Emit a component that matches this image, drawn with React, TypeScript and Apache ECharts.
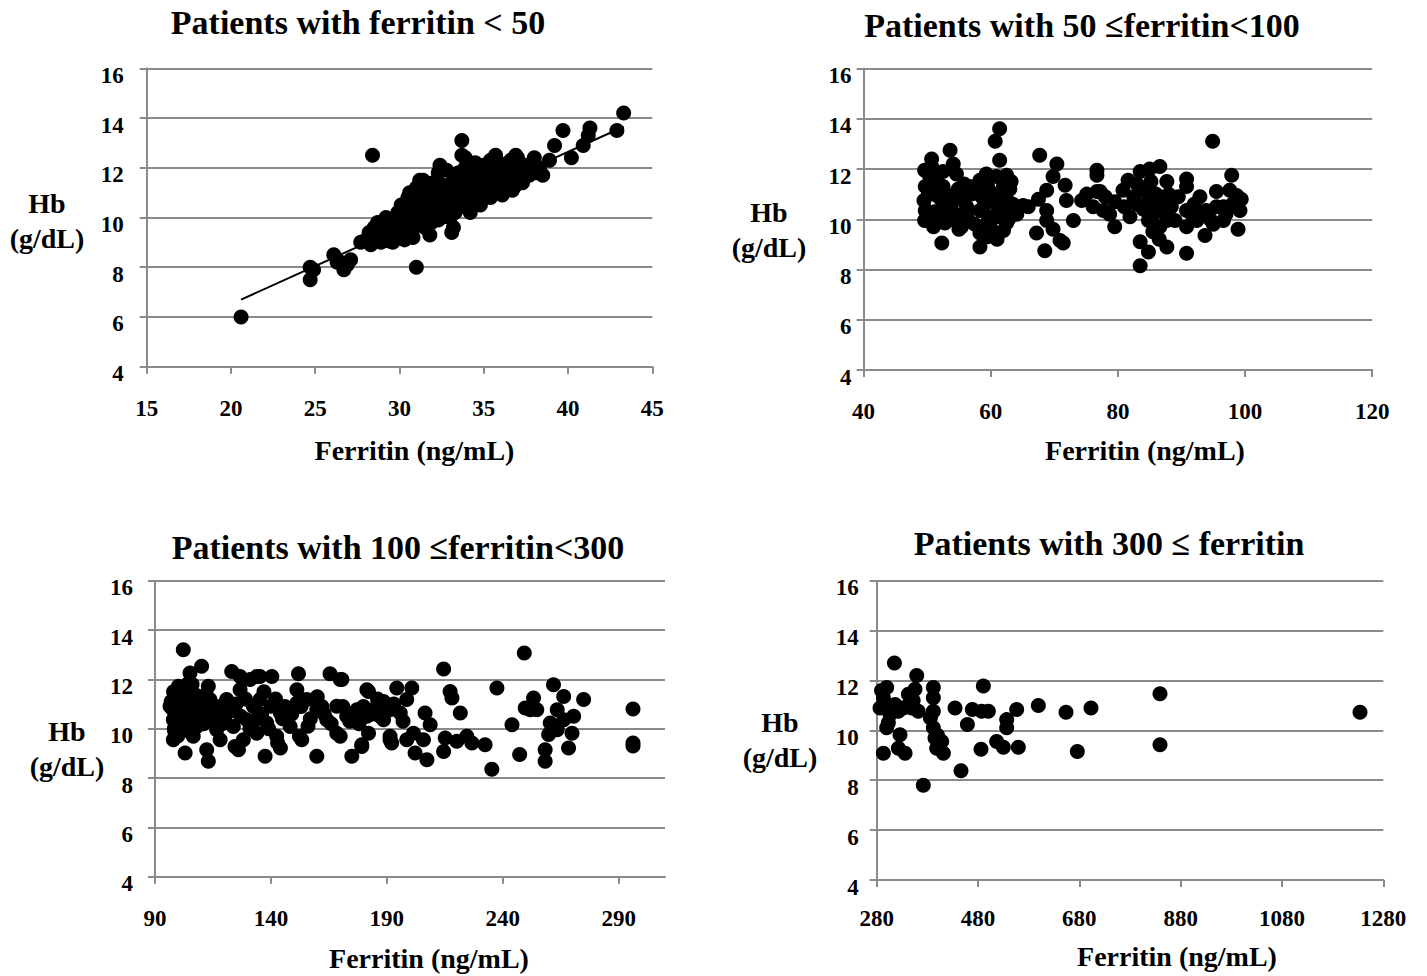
import React, { useEffect, useRef } from "react";
import * as echarts from "echarts";

// ---------- texts ----------
const titles = [
  "Patients with ferritin < 50",
  "Patients with 50 \u2264ferritin<100",
  "Patients with 100 \u2264ferritin<300",
  "Patients with 300 \u2264 ferritin",
];
const xAxisTitle = "Ferritin (ng/mL)";
const yAxisTitle = "Hb\n(g/dL)";

// ---------- axes ----------
const yTicks = [4, 6, 8, 10, 12, 14, 16];
const xTicks1 = [15, 20, 25, 30, 35, 40, 45];
const xTicks2 = [40, 60, 80, 100, 120];
const xTicks3 = [90, 140, 190, 240, 290];
const xTicks4 = [280, 480, 680, 880, 1080, 1280];
const xRange1 = [15, 45];
const xRange2 = [40, 120];
const xRange3 = [90, 310];
const xRange4 = [280, 1280];

// ---------- data: [ferritin, Hb] ----------
const trend1 = [
  [20.6, 6.7],
  [43.3, 13.65],
];

const p1Points = [
  [20.6, 6.0], [24.7, 8.0], [24.7, 7.5], [24.9, 7.9], [26.1, 8.5], [26.3, 8.2], [26.5, 8.2],
  [26.7, 7.9], [27.1, 8.3], [26.9, 8.1], [27.7, 9.0], [28.0, 9.1], [28.4, 12.5], [31.0, 8.0],
  [31.8, 9.3], [33.2, 9.6], [33.1, 9.4], [33.7, 13.1], [43.3, 14.2], [42.9, 13.5], [41.3, 13.6],
  [41.2, 13.3], [40.9, 12.9], [40.2, 12.4], [39.7, 13.5], [39.2, 12.9], [38.9, 12.3], [38.5, 11.7],
  [38.2, 12.0], [38.0, 12.4], [36.9, 12.5], [35.7, 12.5], [33.9, 12.4], [33.9, 12.0], [32.4, 12.1],
  [31.2, 11.5], [30.6, 11.0],
  [28.2, 9.4], [28.4, 9.1], [28.5, 9.6], [28.6, 9.3], [28.7, 9.8],
  [29.0, 9.2], [29.0, 9.5], [29.1, 9.8], [29.2, 10.0], [29.3, 9.3], [29.4, 9.05], [29.5, 9.6],
  [29.6, 9.0], [29.7, 9.9], [29.8, 9.4], [29.9, 10.2], [30.0, 9.7], [30.1, 9.2], [30.2, 10.0],
  [30.3, 9.1], [30.3, 10.4], [30.4, 9.6], [30.5, 10.8], [30.6, 10.2], [30.7, 9.4], [30.8, 10.6],
  [30.8, 9.2], [30.9, 9.9], [31.0, 11.2], [31.0, 10.3], [31.1, 9.7],
  [31.2, 10.9], [31.3, 10.1], [31.4, 11.5], [31.5, 10.6], [31.6, 9.9], [31.7, 11.2], [31.8, 10.4],
  [31.9, 9.8], [32.0, 10.8], [32.0, 11.4],
  [32.1, 10.2], [32.2, 11.0], [32.3, 11.8], [32.4, 10.5], [32.5, 10.0], [32.6, 11.3], [32.7, 10.7],
  [32.8, 11.9], [32.9, 10.3], [33.0, 11.1],
  [33.1, 10.6], [33.2, 11.5], [33.3, 10.2], [33.4, 11.0], [33.5, 11.8], [33.6, 10.5], [33.7, 12.5],
  [33.8, 11.3], [33.9, 10.8], [34.0, 12.0],
  [34.1, 10.4], [34.2, 11.6], [34.3, 11.0], [34.4, 10.6], [34.5, 12.2], [34.6, 11.3], [34.7, 10.8],
  [34.8, 11.8], [35.0, 11.1], [35.0, 12.1],
  [35.2, 11.5], [35.3, 10.9], [35.4, 12.3], [35.5, 11.3], [35.6, 11.8], [35.8, 11.0], [35.9, 12.2],
  [36.0, 11.5],
  [36.2, 12.0], [36.3, 11.3], [36.5, 11.7], [36.6, 12.3], [36.7, 11.1], [36.8, 11.9], [37.0, 12.4],
  [37.0, 11.5],
  [37.2, 11.8], [37.4, 11.6], [37.5, 12.1], [37.7, 11.7], [37.9, 11.9], [38.1, 11.8], [38.3, 12.0],
  [29.3, 9.7], [29.6, 9.5], [29.9, 9.8], [30.1, 10.5], [30.2, 9.5], [30.5, 9.9], [30.6, 10.6],
  [30.9, 10.4], [31.2, 10.0], [31.4, 10.8], [31.5, 9.6], [31.7, 10.2], [31.9, 10.9], [32.1, 10.6],
  [32.3, 9.9], [32.5, 11.2], [32.8, 10.5], [33.0, 10.0], [33.2, 10.8], [33.5, 10.4], [33.7, 11.1],
  [34.0, 10.7], [34.2, 10.2], [34.5, 11.0], [34.8, 10.5], [35.1, 11.4], [35.4, 10.8], [35.7, 11.2],
  [36.1, 10.9], [36.4, 11.5], [36.9, 11.3], [37.3, 11.4], [28.9, 9.0], [29.8, 9.15], [28.3, 8.9],
];

const p2Points = [
  [61.4, 13.6], [60.7, 13.1], [61.4, 12.35], [53.6, 12.75], [50.7, 12.4], [49.6, 11.95], [67.7, 12.55],
  [70.4, 12.2], [52.3, 9.05], [58.3, 8.9], [68.5, 8.75], [71.4, 9.05], [67.2, 9.45], [65.1, 10.55],
  [63.0, 11.2], [62.5, 11.75], [69.8, 11.7], [71.7, 11.35], [68.8, 11.15], [67.5, 10.8], [68.8, 9.95],
  [69.8, 9.6], [73.0, 9.95], [74.3, 10.75], [76.1, 10.5], [77.2, 11.1], [49.6, 9.95], [49.9, 10.35],
  [49.5, 10.75], [49.7, 11.3], [51.5, 11.55], [52.3, 10.75], [53.3, 10.35], [52.8, 9.85], [54.6, 11.8],
  [54.9, 11.2], [55.7, 10.75], [55.4, 9.7], [56.5, 9.95], [58.3, 11.55], [58.6, 10.9], [58.3, 10.35],
  [58.8, 9.55], [59.9, 9.85], [60.9, 11.7], [62.0, 11.3], [60.9, 10.6], [61.4, 10.1], [60.4, 9.5],
  [62.5, 9.85], [63.5, 10.6], [64.1, 10.2], [65.9, 10.5], [50.7, 12.1], [54.1, 12.2],
  [51.0, 11.0], [49.7, 10.35], [52.0, 9.95], [54.4, 9.95], [56.2, 10.5], [56.7, 11.3], [59.3, 11.8],
  [58.0, 11.15], [59.6, 9.95], [63.0, 10.35], [62.5, 10.8], [50.4, 11.7], [52.5, 11.9], [58.3, 9.45],
  [62.0, 9.55], [68.8, 10.35], [70.9, 9.15], [71.9, 10.75], [75.1, 11.0], [78.0, 10.9],
  [94.9, 13.1], [76.7, 11.95], [76.7, 11.75], [76.7, 11.1], [79.5, 10.7], [77.7, 10.35], [79.5, 9.7],
  [81.9, 10.1], [80.8, 11.15], [81.6, 11.55], [83.5, 11.9], [85.0, 12.0], [86.6, 12.1], [87.7, 11.5],
  [84.0, 11.15], [84.8, 10.75], [86.6, 10.8], [85.6, 10.2], [84.8, 9.95], [86.6, 9.7], [88.4, 10.5],
  [89.0, 9.95], [83.5, 9.1], [84.8, 8.7], [83.5, 8.15], [87.7, 8.9], [90.8, 11.6], [90.8, 11.3],
  [90.8, 8.65], [90.8, 10.35], [90.8, 9.7], [92.4, 9.95], [93.9, 10.35], [93.7, 9.35], [95.5, 10.5],
  [95.5, 11.1], [97.9, 11.75], [98.7, 10.95], [99.2, 10.35], [98.9, 9.6], [96.6, 9.95], [92.9, 10.9],
  [86.1, 10.5], [87.7, 9.95], [83.0, 10.6], [89.5, 10.9], [91.8, 10.1], [96.6, 10.5], [97.6, 11.15],
  [99.4, 10.8], [78.7, 10.2],
  [50.2, 11.0], [50.5, 10.0], [51.2, 10.3], [51.8, 10.9], [52.5, 11.3], [53.0, 11.0], [53.8, 10.6],
  [54.5, 10.2], [55.0, 10.9], [55.8, 11.4], [56.3, 10.3], [57.0, 11.0], [57.5, 9.8], [59.0, 10.6],
  [59.5, 11.3], [60.0, 10.1], [60.5, 11.0], [61.5, 11.0], [62.0, 10.5], [62.8, 10.0], [63.2, 11.5],
  [59.5, 9.3], [61.0, 9.2], [55.0, 9.6], [51.0, 9.7],
  [84.0, 10.4], [85.2, 11.5], [86.0, 11.0], [87.2, 10.3], [88.0, 11.0], [85.5, 9.5], [83.0, 11.4],
  [86.5, 9.2], [92.0, 10.6], [93.0, 10.2], [94.5, 10.0], [95.0, 9.8], [97.0, 10.2], [98.0, 10.6],
  [81.0, 10.5], [82.5, 10.9],
];

const p3Points = [
  [102.2, 13.2], [110.1, 12.53], [123.1, 12.32], [133.9, 12.12], [140.4, 12.12], [151.9, 12.23],
  [165.5, 12.23], [170.6, 11.99], [214.5, 12.42], [249.3, 13.07], [237.5, 11.65], [200.8, 11.65],
  [194.3, 11.65], [217.3, 11.51], [218.1, 11.24], [221.7, 10.64], [206.5, 10.64], [208.7, 10.16],
  [205.8, 9.55], [201.5, 9.82], [202.2, 9.01], [207.3, 8.74], [214.5, 9.08], [215.2, 9.62],
  [220.2, 9.49], [224.5, 9.69], [226.7, 9.42], [232.4, 9.35], [235.3, 8.36], [244.0, 10.16],
  [247.3, 8.95], [249.7, 10.84], [253.3, 11.24], [254.7, 10.77], [261.9, 11.78], [266.3, 11.31],
  [270.6, 10.5], [269.9, 9.82], [268.4, 9.22], [258.3, 8.68], [258.3, 9.15], [259.8, 9.76],
  [260.5, 10.23], [263.5, 10.77], [274.9, 11.18], [296.2, 10.8], [296.2, 9.42], [296.2, 9.3],
  [251.9, 10.77], [263.5, 9.96], [266.3, 10.36],
  [105.1, 12.26], [135.3, 12.12], [126.7, 12.12], [131.0, 11.99], [169.9, 11.99], [113.0, 11.72],
  [98.6, 11.45], [96.5, 10.91], [97.9, 10.36], [97.9, 9.55], [103.0, 9.01], [112.3, 9.15],
  [113.0, 8.68], [126.0, 9.15], [128.1, 9.55], [137.5, 8.88], [142.9, 9.42], [144.1, 9.22],
  [152.3, 9.69], [159.8, 8.88], [169.9, 9.69], [174.9, 8.88], [179.2, 9.28], [182.1, 9.82],
  [191.4, 9.55], [181.4, 11.58], [151.2, 11.58], [151.2, 11.04], [144.1, 10.64], [135.3, 11.18],
  [126.7, 11.58], [120.9, 11.18], [120.2, 10.5], [116.6, 9.96], [108.0, 10.09], [105.1, 10.91],
  [101.5, 11.45], [103.7, 10.5], [106.5, 9.69], [110.9, 10.64], [113.7, 11.18], [123.8, 10.09],
  [129.6, 10.36], [132.4, 10.91], [138.2, 10.23], [140.1, 10.91], [148.3, 10.09], [155.5, 11.18],
  [159.8, 10.77], [164.1, 10.36], [168.4, 10.91], [172.7, 10.5], [177.1, 10.77], [185.7, 10.91],
  [188.6, 10.36], [195.8, 10.64], [198.6, 11.18], [168.4, 9.82], [153.3, 9.55], [142.5, 9.69],
  [133.9, 9.82], [124.5, 9.28], [118.1, 9.55], [100.1, 10.09], [100.8, 10.91], [100.1, 11.72],
  [182.1, 11.51], [188.6, 11.1], [191.4, 10.77], [187.1, 10.5], [181.4, 10.5], [175.6, 10.5],
  [179.9, 10.9], [179.2, 9.35], [191.4, 9.69], [192.1, 9.42], [198.6, 9.55],
  [99.0, 10.6], [102.0, 10.2], [104.0, 11.8], [107.5, 11.2], [109.0, 10.4], [98.5, 9.9],
  [115.0, 10.3], [118.0, 10.9], [131.0, 10.0], [136.0, 10.6], [146.0, 10.9], [157.0, 10.4],
  [162.0, 10.9],
  [97.0, 11.1], [97.5, 10.8], [98.0, 11.5], [98.3, 10.0], [99.5, 11.2], [99.8, 9.7], [100.5, 10.4],
  [101.0, 11.0], [101.5, 9.9], [102.5, 10.7], [103.0, 11.6], [103.5, 10.0], [104.5, 11.0],
  [105.5, 10.5], [106.0, 11.8], [106.5, 10.2], [107.0, 11.4], [108.5, 10.8], [110.0, 11.0],
  [111.0, 10.2], [112.0, 11.4], [114.0, 10.8], [116.0, 10.6], [119.0, 10.2], [122.0, 10.7],
  [125.0, 11.0], [127.0, 10.5], [129.0, 11.2], [134.0, 10.4], [137.0, 11.5], [139.0, 10.0],
  [142.0, 11.2], [145.0, 10.4], [149.0, 10.6], [153.0, 10.9], [156.0, 10.1], [160.0, 11.3],
  [163.0, 10.6], [166.0, 10.2], [171.0, 10.9], [174.0, 10.3], [178.0, 10.2], [184.0, 10.6],
  [186.0, 11.2], [190.0, 10.9], [193.0, 11.0], [197.0, 10.3],
];

const p4Points = [
  [315, 12.7], [359, 12.2], [299.7, 11.72], [293.2, 11.31], [286.6, 10.9], [303, 10.3], [299.7, 10.1],
  [293.2, 9.08], [326, 9.82], [336, 9.08], [322.8, 9.28], [372, 7.8], [342.5, 11.45], [355.6, 11.65],
  [349.1, 10.9], [362, 10.77], [391.8, 11.72], [391.8, 11.31], [391.8, 10.77], [391.8, 10.1],
  [395.1, 9.69], [398.4, 9.28], [411.6, 9.08], [408.3, 9.55], [322.8, 10.77], [316.2, 11.04],
  [306.3, 10.64], [332.6, 10.9], [434.6, 10.9], [446.4, 8.38], [459, 10.23], [468.8, 10.84],
  [490.5, 11.78], [487.2, 10.77], [500.4, 10.77], [485.9, 9.24], [516.8, 9.55], [530, 9.32],
  [536.6, 10.43], [536.6, 10.1], [556.3, 10.84], [559.6, 9.32], [599.1, 11.0], [653.7, 10.73],
  [676, 9.15], [703, 10.9], [839.2, 11.47], [839.2, 9.42], [1234, 10.73], [342, 11.0],
  [289.5, 11.6], [310, 10.9], [352, 11.2], [386, 10.5], [400, 9.8],
];

// ---------- layout ----------
const FONT = '"Liberation Serif", "Times New Roman", serif';
const GRID_COLOR = "#8a8a8a";

const panels = [
  {
    title: titles[0], data: p1Points, xRange: xRange1, xTicks: xTicks1, interval: 5,
    grid: { left: 146.7, top: 68.3, width: 505.6, height: 298.4 },
    titlePos: [358, 22], yNamePos: [47, 221], xNamePos: [414.5, 450],
    yLabelMargin: 23, xLabelMargin: 30,
  },
  {
    title: titles[1], data: p2Points, xRange: xRange2, xTicks: xTicks2, interval: 20,
    grid: { left: 863.6, top: 68.5, width: 508.6, height: 301.5 },
    titlePos: [1082, 25], yNamePos: [769, 230], xNamePos: [1145, 450],
    yLabelMargin: 12, xLabelMargin: 30,
  },
  {
    title: titles[2], data: p3Points, xRange: xRange3, xTicks: xTicks3, interval: 50,
    grid: { left: 155, top: 580.7, width: 510, height: 296 },
    titlePos: [398, 547], yNamePos: [67, 749], xNamePos: [429, 958],
    yLabelMargin: 22, xLabelMargin: 30,
  },
  {
    title: titles[3], data: p4Points, xRange: xRange4, xTicks: xTicks4, interval: 200,
    grid: { left: 876.7, top: 580.7, width: 506.6, height: 299.3 },
    titlePos: [1109, 543], yNamePos: [780, 740], xNamePos: [1177, 956],
    yLabelMargin: 18, xLabelMargin: 27,
  },
];

function buildOption() {
  const lineStyle = { color: GRID_COLOR, width: 2 };
  const labelStyle = {
    fontFamily: FONT,
    fontSize: 23,
    fontWeight: "bold" as const,
    color: "#000",
    formatter: (v: number) => String(v),
  };

  const title = panels.map((p) => ({
    text: p.title,
    left: p.titlePos[0],
    top: p.titlePos[1],
    textAlign: "center",
    textVerticalAlign: "middle",
    padding: 0,
    textStyle: { fontFamily: FONT, fontSize: 34, fontWeight: "bold", color: "#000" },
  }));

  const grid = panels.map((p) => ({ ...p.grid, containLabel: false }));

  const xAxis = panels.map((p, i) => ({
    gridIndex: i,
    type: "value",
    min: p.xRange[0],
    max: p.xRange[1],
    interval: p.interval,
    axisLine: { show: true, onZero: false, lineStyle },
    axisTick: { show: true, length: 7, lineStyle, customValues: p.xTicks },
    axisLabel: { ...labelStyle, margin: p.xLabelMargin, customValues: p.xTicks },
    splitLine: { show: false },
  }));

  const yAxis = panels.map((p, i) => ({
    gridIndex: i,
    type: "value",
    min: yTicks[0],
    max: yTicks[yTicks.length - 1],
    interval: 2,
    axisLine: { show: true, onZero: false, lineStyle },
    axisTick: { show: true, length: 7, lineStyle },
    axisLabel: { ...labelStyle, margin: p.yLabelMargin, verticalAlign: "top", lineHeight: 14 },
    splitLine: { show: true, lineStyle },
  }));

  const series: any[] = panels.map((p, i) => ({
    type: "scatter",
    xAxisIndex: i,
    yAxisIndex: i,
    data: p.data,
    symbol: "circle",
    symbolSize: 15,
    itemStyle: { color: "#000", opacity: 1 },
    z: 3,
  }));
  series.push({
    type: "line",
    xAxisIndex: 0,
    yAxisIndex: 0,
    data: trend1,
    showSymbol: false,
    symbol: "none",
    lineStyle: { color: "#000", width: 2 },
    z: 4,
  });

  const graphic: any[] = [];
  panels.forEach((p) => {
    graphic.push({
      type: "text",
      x: p.yNamePos[0],
      y: p.yNamePos[1],
      style: {
        text: yAxisTitle,
        fontFamily: FONT,
        fontSize: 28,
        fontWeight: "bold",
        fill: "#000",
        align: "center",
        verticalAlign: "middle",
        lineHeight: 35,
      },
    });
    graphic.push({
      type: "text",
      x: p.xNamePos[0],
      y: p.xNamePos[1],
      style: {
        text: xAxisTitle,
        fontFamily: FONT,
        fontSize: 28,
        fontWeight: "bold",
        fill: "#000",
        align: "center",
        verticalAlign: "middle",
      },
    });
  });

  return {
    animation: false,
    backgroundColor: "#fff",
    title,
    grid,
    xAxis,
    yAxis,
    series,
    graphic,
  };
}

export default function App() {
  const ref = useRef<HTMLDivElement>(null);
  useEffect(() => {
    if (!ref.current) return;
    const chart = echarts.init(ref.current, undefined, { renderer: "svg" });
    chart.setOption(buildOption() as any);
    return () => chart.dispose();
  }, []);
  return (
    <div
      ref={ref}
      style={{ position: "fixed", left: 0, top: 0, width: 1427, height: 976, background: "#fff" }}
    />
  );
}
